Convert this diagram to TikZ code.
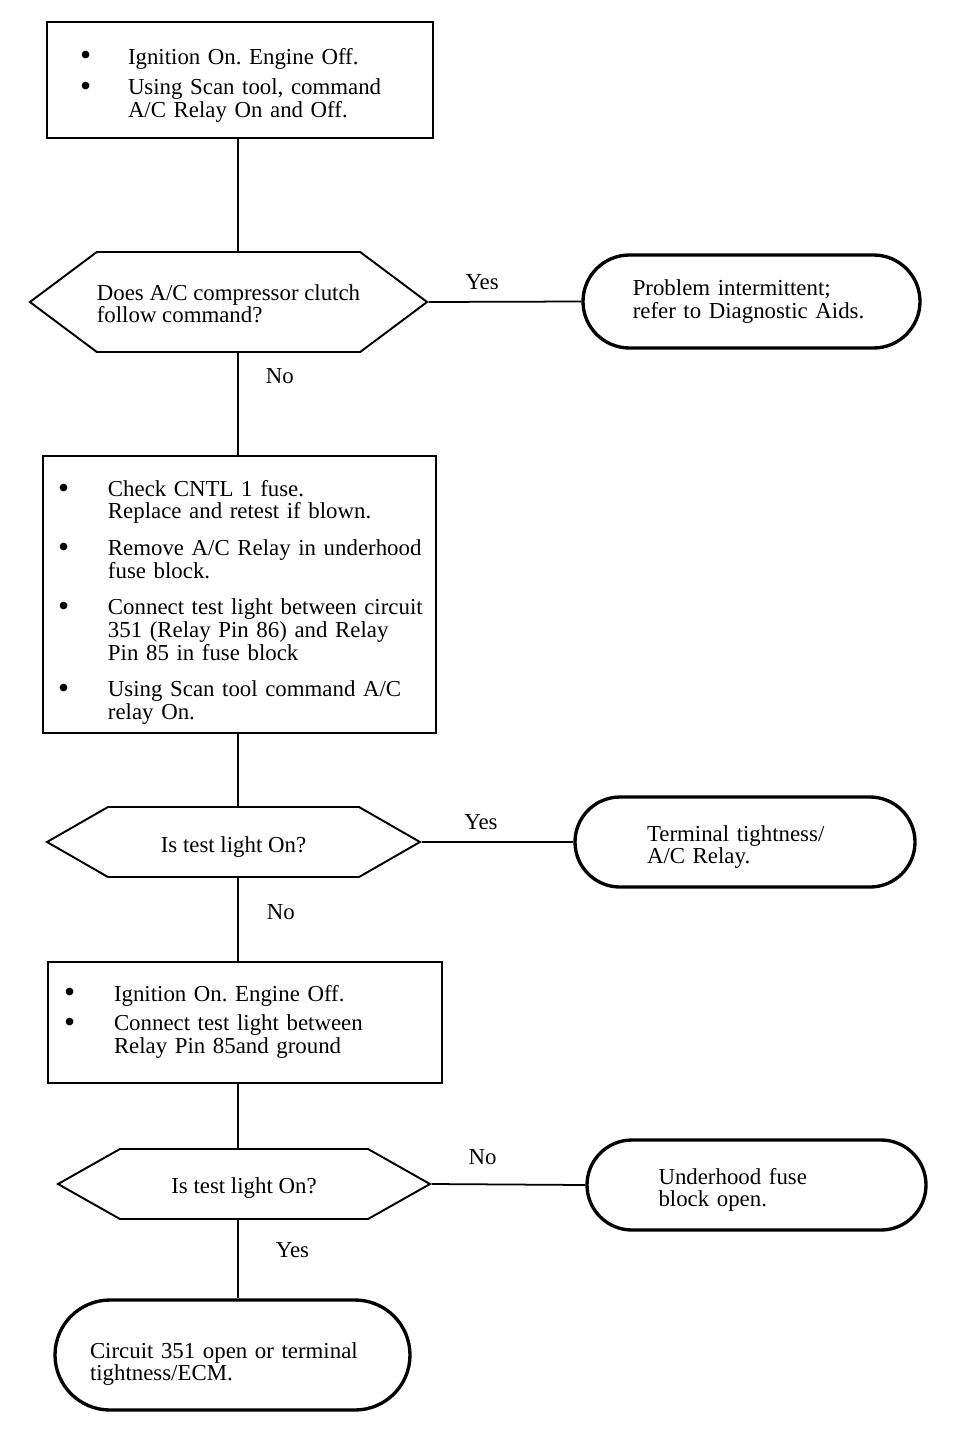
\documentclass[tikz,border=0pt]{standalone}
\usepackage{fontspec}
\setmainfont{Liberation Serif}
\usetikzlibrary{shapes.symbols,shapes.misc}

\newcommand{\bul}[1][1.0cm]{\makebox[#1][l]{\raisebox{-1pt}{\fontsize{18}{18}\selectfont\textbullet}}}
% push a block down by #1 inside its shape
\newcommand{\lowr}[2]{\raisebox{0pt}[\dimexpr\height+#1\relax][\dimexpr\depth-#1\relax]{#2}}

\begin{document}
\frenchspacing
\begin{tikzpicture}[font=\fontsize{13}{12.6}\selectfont,
  stepbox/.style={draw,line width=1.3pt,align=left,inner ysep=0pt},
  askbox/.style={draw,line width=1.1pt,signal,signal to=east and west,inner sep=0pt,align=left},
  endbox/.style={draw,line width=1.9pt,rounded rectangle,inner sep=0pt,align=left},
  lbl/.style={inner sep=0pt},
  link/.style={line width=1pt}]
\useasboundingbox (0,0) rectangle (19.2,-28.92);
\coordinate (spine) at (4.76,0);
% checks and questions down the left
\node[stepbox,minimum height=2.32cm,text width=6.40cm,inner xsep=0.66cm] (chk1) at (4.80,-1.60) {\lowr{3.4pt}{%
\begin{tabular}{@{}l@{}l@{}}
\bul[0.96cm] & Ignition On. Engine Off.\\[4.5pt]
\bul[0.96cm] & Using Scan tool, command\\
 & A/C Relay On and Off.
\end{tabular}}};
\node[askbox,minimum width=7.94cm,minimum height=2.00cm,signal pointer angle=73.5] (ask1) at (4.57,-6.04) {\lowr{2.8pt}{%
\begin{tabular}{@{}l@{}}
Does A/C compressor clutch\\
follow command?
\end{tabular}}};
\node[endbox,minimum width=6.74cm,minimum height=1.86cm,text width=4.75cm] (end1) at (15.03,-6.03) {Problem intermittent;\\refer to Diagnostic Aids.};
\node[stepbox,minimum height=5.54cm,text width=7.26cm,inner xsep=0.30cm] (chk2) at (4.79,-11.89) {\lowr{4.8pt}{%
\begin{tabular}{@{}l@{}l@{}}
\bul & Check CNTL 1 fuse.\\
 & Replace and retest if blown.\\[8pt]
\bul & Remove A/C Relay in underhood\\
 & fuse block.\\[8pt]
\bul & Connect test light between circuit\\
 & 351 (Relay Pin 86) and Relay\\
 & Pin 85 in fuse block\\[8pt]
\bul & Using Scan tool command A/C\\
 & relay On.
\end{tabular}}};
\node[askbox,minimum width=7.46cm,minimum height=1.40cm,signal pointer angle=59.7] (ask2) at (4.67,-16.84) {\lowr{2.6pt}{Is test light On?}};
\node[endbox,minimum width=6.80cm,minimum height=1.80cm,text width=3.92cm] (end2) at (14.90,-16.84) {\lowr{3.4pt}{%
\begin{tabular}{@{}l@{}}
Terminal tightness/\\
A/C Relay.
\end{tabular}}};
\node[stepbox,minimum height=2.42cm,text width=7.24cm,inner xsep=0.32cm] (chk3) at (4.90,-20.45) {%
\begin{tabular}{@{}l@{}l@{}}
\bul & Ignition On. Engine Off.\\[4pt]
\bul & Connect test light between\\
 & Relay Pin 85and ground
\end{tabular}};
\node[askbox,minimum width=7.44cm,minimum height=1.40cm,signal pointer angle=58.9] (ask3) at (4.88,-23.68) {\lowr{2.3pt}{Is test light On?}};
\node[endbox,minimum width=6.78cm,minimum height=1.80cm,text width=3.92cm] (end3) at (15.13,-23.70) {\lowr{3.4pt}{%
\begin{tabular}{@{}l@{}}
Underhood fuse\\
block open.
\end{tabular}}};
\node[endbox,minimum width=7.10cm,minimum height=2.20cm,text width=5.70cm] (end4) at (4.65,-27.10) {\lowr{5.7pt}{%
\begin{tabular}{@{}l@{}}
Circuit 351 open or terminal\\
tightness/ECM.
\end{tabular}}};
% connectors
\draw[link] (chk1.south -| spine) -- (ask1.north -| spine);
\draw[link] (ask1.east) -- node[lbl,pos=0.35,anchor=base,yshift=0.24cm]{Yes} (end1.west);
\draw[link] (ask1.south -| spine) -- node[lbl,pos=0.23,right=0.54cm]{No} (chk2.north -| spine);
\draw[link] (chk2.south -| spine) -- (ask2.north -| spine);
\draw[link] (ask2.east) -- node[lbl,pos=0.39,anchor=base,yshift=0.26cm]{Yes} (end2.west);
\draw[link] (ask2.south -| spine) -- node[lbl,pos=0.41,right=0.56cm]{No} (chk3.north -| spine);
\draw[link] (chk3.south -| spine) -- (ask3.north -| spine);
\draw[link] (ask3.east) -- node[lbl,pos=0.33,anchor=base,yshift=0.40cm]{No} (end3.west);
\draw[link] (ask3.south -| spine) -- node[lbl,pos=0.38,right=0.74cm]{Yes} (end4.north -| spine);
\end{tikzpicture}
\end{document}
